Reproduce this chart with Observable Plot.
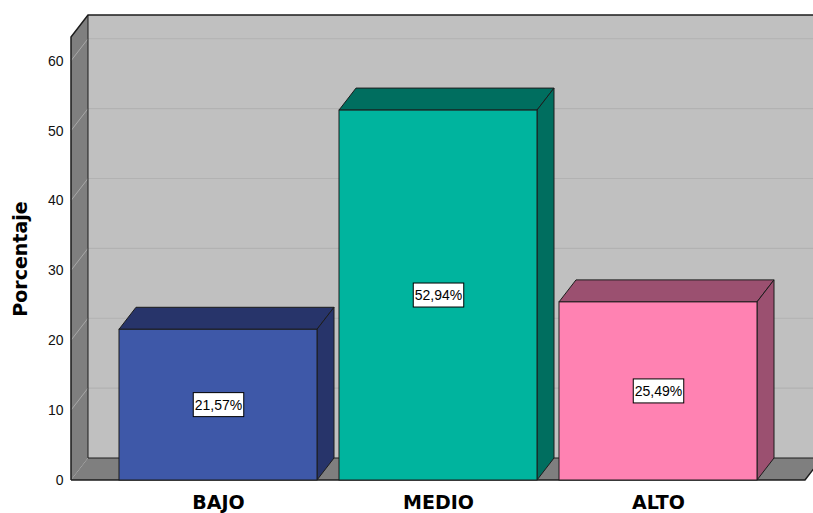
<!DOCTYPE html>
<html><head><meta charset="utf-8">
<script src="https://cdn.jsdelivr.net/npm/d3@7"></script>
<script src="https://cdn.jsdelivr.net/npm/@observablehq/plot@0.6"></script>
<style>html,body{margin:0;padding:0;background:#fff;} svg{display:block}</style>
</head><body>
<div id="chart"></div>
<script>
// ---- data ----
const categories = ["BAJO", "MEDIO", "ALTO"];
const percentages = [21.57, 52.94, 25.49];
const valueLabels = ["21,57%", "52,94%", "25,49%"];
const yTicks = [0, 10, 20, 30, 40, 50, 60];
const frontColors = ["#3e58a8", "#00b49e", "#ff82b2"];
const shadeColors = ["#27346a", "#006e5f", "#9b5070"];

const data = categories.map((c, i) => ({
  cat: c, value: percentages[i], label: valueLabels[i],
  front: frontColors[i], shade: shadeColors[i]
}));

const DX = 17, DY = 22; // 3D depth offset in px
const EDGE = "#1c1c1c";
const BOLDFONT = "'DejaVu Sans', Verdana, sans-serif";

function walls(index, scales, values, dims) {
  const x = scales.x, y = scales.y;
  const [x0, x1] = x.range();
  const y0 = y(0), yTop = y(y.domain()[1]);
  const W = dims.width;
  const g = d3.create("svg:g");
  g.append("rect").attr("x", x0 + DX).attr("y", yTop - DY)
    .attr("width", W - x0).attr("height", y0 - yTop).attr("fill", "#c0c0c0");
  g.append("path").attr("d", `M${x0},${yTop}L${x0 + DX},${yTop - DY}L${x0 + DX},${y0 - DY}L${x0},${y0}Z`)
    .attr("fill", "#7f7f7f");
  g.append("path").attr("d", `M${x0},${y0}L${x0 + DX},${y0 - DY}L${x1 + DX},${y0 - DY}L${x1},${y0}Z`)
    .attr("fill", "#7f7f7f");
  for (const v of yTicks) {
    if (v === 0) continue;
    const yy = y(v);
    g.append("line").attr("x1", x0).attr("y1", yy).attr("x2", x0 + DX).attr("y2", yy - DY)
      .attr("stroke", "#a8a8a8").attr("stroke-width", 1);
    g.append("line").attr("x1", x0 + DX).attr("y1", yy - DY).attr("x2", W).attr("y2", yy - DY)
      .attr("stroke", "#b2b2b2").attr("stroke-width", 1.2);
  }
  const e = (d, w) => g.append("path").attr("d", d).attr("fill", "none").attr("stroke", EDGE).attr("stroke-width", w);
  e(`M${x0},${y0}L${x0},${yTop}L${x0 + DX},${yTop - DY}L${W},${yTop - DY}`, 1.5);
  e(`M${x0 + DX},${yTop - DY}L${x0 + DX},${y0 - DY}L${x1 + DX},${y0 - DY}`, 1);
  e(`M${x0},${y0}L${x1},${y0}L${x1 + DX},${y0 - DY}`, 1.5);
  return g.node();
}

function bars3d(index, scales) {
  const x = scales.x, y = scales.y;
  const bw = x.bandwidth();
  const g = d3.create("svg:g");
  for (const d of data) {
    const xl = x(d.cat), xr = xl + bw, yt = y(d.value), yb = y(0);
    g.append("path")
      .attr("d", `M${xl},${yt}L${xr},${yt}L${xr + DX},${yt - DY}L${xl + DX},${yt - DY}Z`)
      .attr("fill", d.shade).attr("stroke", EDGE).attr("stroke-width", 1).attr("stroke-linejoin", "round");
    g.append("path")
      .attr("d", `M${xr},${yt}L${xr + DX},${yt - DY}L${xr + DX},${yb - DY}L${xr},${yb}Z`)
      .attr("fill", d.shade).attr("stroke", EDGE).attr("stroke-width", 1).attr("stroke-linejoin", "round");
  }
  return g.node();
}

const plot = Plot.plot({
  width: 813, height: 513,
  marginLeft: 71, marginRight: 8, marginTop: 37, marginBottom: 33,
  style: {fontFamily: "'Liberation Sans', Arial, sans-serif", background: "#fff", overflow: "visible", color: "#111"},
  x: {type: "band", domain: categories, paddingInner: 0.1, paddingOuter: 0.218},
  y: {domain: [0, 63.4]},
  marks: [
    walls,
    Plot.axisY(yTicks, {tickSize: 0, tickPadding: 8, fontSize: 14, label: null}),
    bars3d,
    Plot.barY(data, {x: "cat", y: "value", fill: "front", stroke: EDGE, strokeWidth: 1}),
    Plot.text(data, {x: "cat", y: d => d.value / 2, text: "label", fontSize: 14, fill: "#000", className: "vlab"}),
    Plot.axisX({tickSize: 0, tickPadding: 15, fontSize: 19, fontWeight: "bold", fontFamily: BOLDFONT, fill: "#000", label: null}),
    Plot.text(["Porcentaje"], {frameAnchor: "left", dx: -51, rotate: -90, textAnchor: "middle",
      fontSize: 19, fontWeight: "bold", fontFamily: BOLDFONT, fill: "#000"})
  ]
});
document.getElementById("chart").append(plot);

// white label boxes behind value labels
d3.select(plot).selectAll("g.vlab text").each(function () {
  const b = this.getBBox();
  const cy = b.y + b.height / 2;
  d3.select(this.parentNode).insert("rect", () => this)
    .attr("transform", this.getAttribute("transform"))
    .attr("x", b.x - 1.5).attr("y", cy - 12).attr("width", b.width + 3).attr("height", 24)
    .attr("fill", "#fff").attr("stroke", "#000").attr("stroke-width", 1);
});
</script>
</body></html>
